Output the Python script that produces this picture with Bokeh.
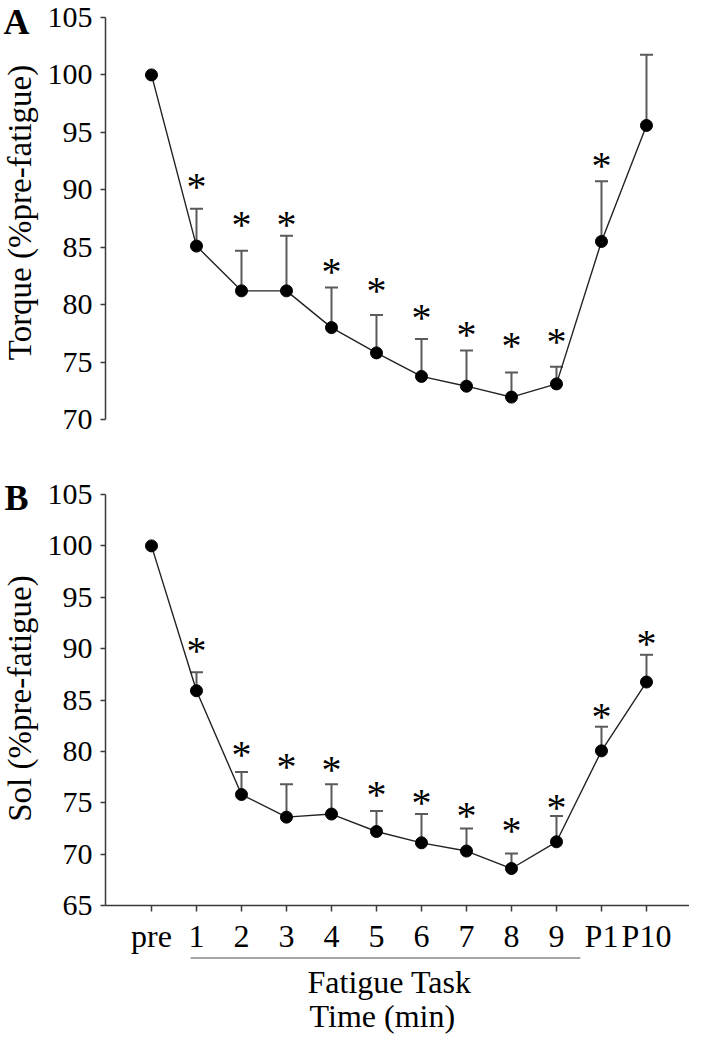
import numpy as np
from bokeh.plotting import figure
from bokeh.models import (Range1d, FixedTicker, Whisker, TeeHead,
                          ColumnDataSource)
from bokeh.layouts import column, row
from bokeh.core.properties import value
from bokeh.embed import file_html
from bokeh.resources import INLINE

# ---------------- data ----------------
categories = ["pre", "1", "2", "3", "4", "5", "6", "7", "8", "9", "P1", "P10"]

torque_mean = [100.0, 85.1, 81.2, 81.2, 78.0, 75.8, 73.75, 72.9, 71.95, 73.1, 85.5, 95.6]
torque_upper = [None, 88.35, 84.7, 86.0, 81.5, 79.1, 77.0, 76.0, 74.1, 74.6, 90.75, 101.75]
torque_star = [None, 91.0, 87.7, 87.7, 83.6, 81.9, 79.6, 78.1, 77.1, 77.5, 92.8, None]

sol_mean = [100.0, 85.9, 75.8, 73.6, 73.9, 72.2, 71.1, 70.3, 68.6, 71.2, 80.05, 86.75]
sol_upper = [None, 87.7, 78.0, 76.8, 76.8, 74.2, 73.9, 72.5, 70.05, 73.7, 82.4, 89.4]
sol_star = [None, 90.6, 80.5, 79.3, 79.0, 76.6, 75.8, 74.5, 73.1, 75.3, 84.2, 91.3]

torque_ticks = [70, 75, 80, 85, 90, 95, 100, 105]
sol_ticks = [65, 70, 75, 80, 85, 90, 95, 100, 105]

panel_labels = ["A", "B"]
y_labels = ["Torque (%pre-fatigue)", "Sol (%pre-fatigue)"]
caption_labels = ["Fatigue Task", "Time (min)"]

# ---------------- style / layout ----------------
SERIF = "Liberation Serif"
AX_COL = "#3a3a3a"
ERR_COL = "#5a5a5a"
GUTTER = 42
W = 689 - GUTTER
LEFT = 63
H_A, H_B, H_C = 453, 503, 78
TOTAL_H = H_A + H_B + H_C
xpos = list(range(len(categories)))
x_range = Range1d(-1.022, 11.956)


def style_common(p):
    p.outline_line_color = None
    p.xgrid.visible = False
    p.ygrid.visible = False
    p.background_fill_color = "white"
    p.border_fill_color = "white"


def style_yaxis(p, ticks):
    ax = p.yaxis[0]
    ax.ticker = FixedTicker(ticks=ticks)
    ax.major_label_text_font = SERIF
    ax.major_label_text_font_size = "30px"
    ax.major_label_text_color = "black"
    ax.major_label_standoff = 8
    ax.axis_line_color = AX_COL
    ax.axis_line_width = 1.5
    ax.major_tick_line_color = AX_COL
    ax.major_tick_line_width = 1.5
    ax.major_tick_out = 5
    ax.major_tick_in = 0
    ax.minor_tick_line_color = None


def draw_series(p, means, uppers, stars):
    p.line(xpos, means, line_color="#222222", line_width=1.4)
    wx = [x for x, u in zip(xpos, uppers) if u is not None]
    wl = [m for m, u in zip(means, uppers) if u is not None]
    wu = [u for u in uppers if u is not None]
    wsrc = ColumnDataSource(dict(x=wx, lower=wl, upper=wu))
    wh = Whisker(base="x", lower="lower", upper="upper", source=wsrc,
                 dimension="height", line_color=ERR_COL, line_width=2,
                 upper_head=TeeHead(size=13, line_color=ERR_COL, line_width=2),
                 lower_head=None, level="underlay")
    p.add_layout(wh)
    p.scatter(xpos, means, size=12, color="black")
    sx = [x for x, s in zip(xpos, stars) if s is not None]
    sy = [s for s in stars if s is not None]
    ssrc = ColumnDataSource(dict(x=sx, y=sy, t=["*"] * len(sx)))
    p.text(x="x", y="y", text="t", source=ssrc,
           text_font=value(SERIF), text_font_size="40px",
           text_align="center", text_baseline="middle",
           text_color="black", y_offset=8)


# ---------------- panel A ----------------
pA = figure(width=W, height=H_A, x_range=x_range, y_range=Range1d(70, 105),
            x_axis_location=None, toolbar_location=None, output_backend="svg",
            min_border_left=LEFT, min_border_right=0, min_border_top=17,
            min_border_bottom=34)
style_common(pA)
style_yaxis(pA, torque_ticks)
draw_series(pA, torque_mean, torque_upper, torque_star)

# ---------------- panel B ----------------
pB = figure(width=W, height=H_B, x_range=x_range, y_range=Range1d(65, 105),
            toolbar_location=None, output_backend="svg",
            min_border_left=LEFT, min_border_right=0, min_border_top=41,
            min_border_bottom=50)
style_common(pB)
style_yaxis(pB, sol_ticks)
draw_series(pB, sol_mean, sol_upper, sol_star)
xa = pB.xaxis[0]
xa.ticker = FixedTicker(ticks=xpos)
xa.major_label_overrides = {i: c for i, c in zip(xpos, categories)}
xa.major_label_text_font = SERIF
xa.major_label_text_font_size = "32px"
xa.major_label_text_color = "black"
xa.major_label_standoff = 6
xa.axis_line_color = AX_COL
xa.axis_line_width = 1.5
xa.major_tick_line_color = AX_COL
xa.major_tick_line_width = 1.5
xa.major_tick_out = 6
xa.major_tick_in = 0
xa.minor_tick_line_color = None

# ---------------- bottom caption ----------------
pC = figure(width=W, height=H_C, x_range=x_range, y_range=Range1d(H_C, 0),
            x_axis_location=None, y_axis_location=None,
            toolbar_location=None, output_backend="svg",
            min_border_left=LEFT, min_border_right=0, min_border_top=0,
            min_border_bottom=0)
style_common(pC)
pC.segment(x0=[0.87], y0=[1.5], x1=[9.53], y1=[1.5], line_color="#8a8a8a",
           line_width=1.5)
pC.text(x=[5.29, 5.13], y=[25, 59], text=caption_labels,
        text_font=value(SERIF), text_font_size="32px", text_align="center",
        text_baseline="middle", text_color="black")

# ---------------- left gutter: panel letters and y-axis titles ----------------
pG = figure(width=GUTTER, height=TOTAL_H, x_range=Range1d(0, GUTTER),
            y_range=Range1d(TOTAL_H, 0), x_axis_location=None,
            y_axis_location=None, toolbar_location=None, output_backend="svg",
            min_border=0)
style_common(pG)
pG.text(x=[16, 16], y=[21, 497], text=panel_labels, text_font=value(SERIF),
        text_font_size="36px", text_font_style="bold", text_align="center",
        text_baseline="middle", text_color="black")
pG.text(x=[19.5, 19.5], y=[212, 698], text=y_labels, text_font=value(SERIF),
        text_font_size="33px", text_align="center", text_baseline="middle",
        text_color="black", angle=np.pi / 2)

layout = row(pG, column(pA, pB, pC, spacing=0), spacing=0)
open("out.html", "w").write(file_html(layout, INLINE))
